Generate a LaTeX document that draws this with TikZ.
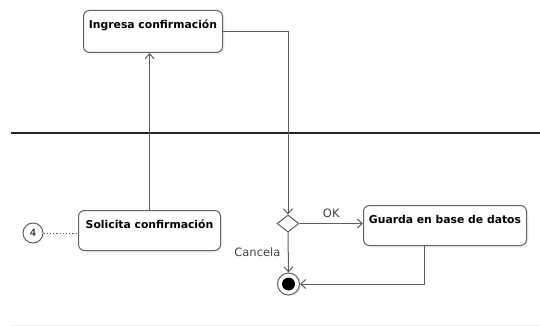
\documentclass[tikz,border=0pt]{standalone}
\usepackage{fontspec}
\setmainfont{DejaVu Sans}
\usetikzlibrary{arrows.meta,shapes.geometric,shadows}
\definecolor{edge}{HTML}{5E5E5E}
\definecolor{boxline}{HTML}{646464}
\definecolor{labelgray}{HTML}{404040}
\begin{document}
\begin{tikzpicture}[x=1pt,y=-1pt,
  action/.style={draw=boxline, line width=1pt, rounded corners=6pt, fill=white,
    anchor=north west, inner xsep=0pt, inner ysep=0pt, text height=18pt,
    text depth=22pt, align=center, font=\bfseries\fontsize{10.8}{12}\selectfont,
    drop shadow={shadow xshift=2pt,shadow yshift=-2pt,opacity=0.10}},
  flow/.style={draw=edge, line width=1pt, -{Straight Barb[length=5pt,width=9pt]}},
  guard/.style={font=\fontsize{11.5}{13}\selectfont, text=labelgray},
  decision/.style={diamond, draw=edge, line width=1pt, fill=white, inner sep=0pt,
    minimum width=22pt, minimum height=17pt},
  endstate/.style={circle, draw=edge, line width=1pt, fill=white, minimum size=22pt,
    inner sep=0pt, path picture={\fill[black] (path picture bounding box.center) circle (6.5pt);},
    drop shadow={shadow xshift=1.5pt,shadow yshift=-1.5pt,opacity=0.10}},
  connector/.style={circle, draw=edge, line width=1pt, minimum size=20pt, inner sep=0pt,
    font=\fontsize{10}{12}\selectfont}
]
\useasboundingbox (0,0) rectangle (540,326);

% swimlane separators
\draw[line width=1.5pt, black!85] (11,133) -- (540,133);
\draw[black!7, line width=0.8pt] (11,325) -- (540,325);

% actions
\node[action, minimum width=139pt, text depth=24pt] (ingresa) at (83,10) {Ingresa confirmación};
\node[action, minimum width=142pt] (solicita) at (78,210) {Solicita confirmación};
\node[action, minimum width=163pt] (guarda) at (363,205) {Guarda en base de datos};

% control nodes
\node[decision] (dec) at (288,223.5) {};
\node[endstate] (final) at (288.5,284) {};
\node[connector] (ref4) at (33,233) {4};

% flows
\draw[flow] (solicita.north) -- (solicita.north |- ingresa.south);
\draw[flow] (ingresa.east) -| (dec.north);
\draw[flow] (dec.east) -- node[guard, above=2pt] {OK} (dec.east -| guarda.west);
\draw[flow] (dec.south) -- node[guard, left=4pt] {Cancela} (final.north);
\draw[flow] ([xshift=-21pt]guarda.south) |- (final.east);
\draw[edge, line width=1pt, dash pattern=on 1.2pt off 2pt] (ref4.east) -- (ref4.east -| solicita.west);
\end{tikzpicture}
\end{document}
